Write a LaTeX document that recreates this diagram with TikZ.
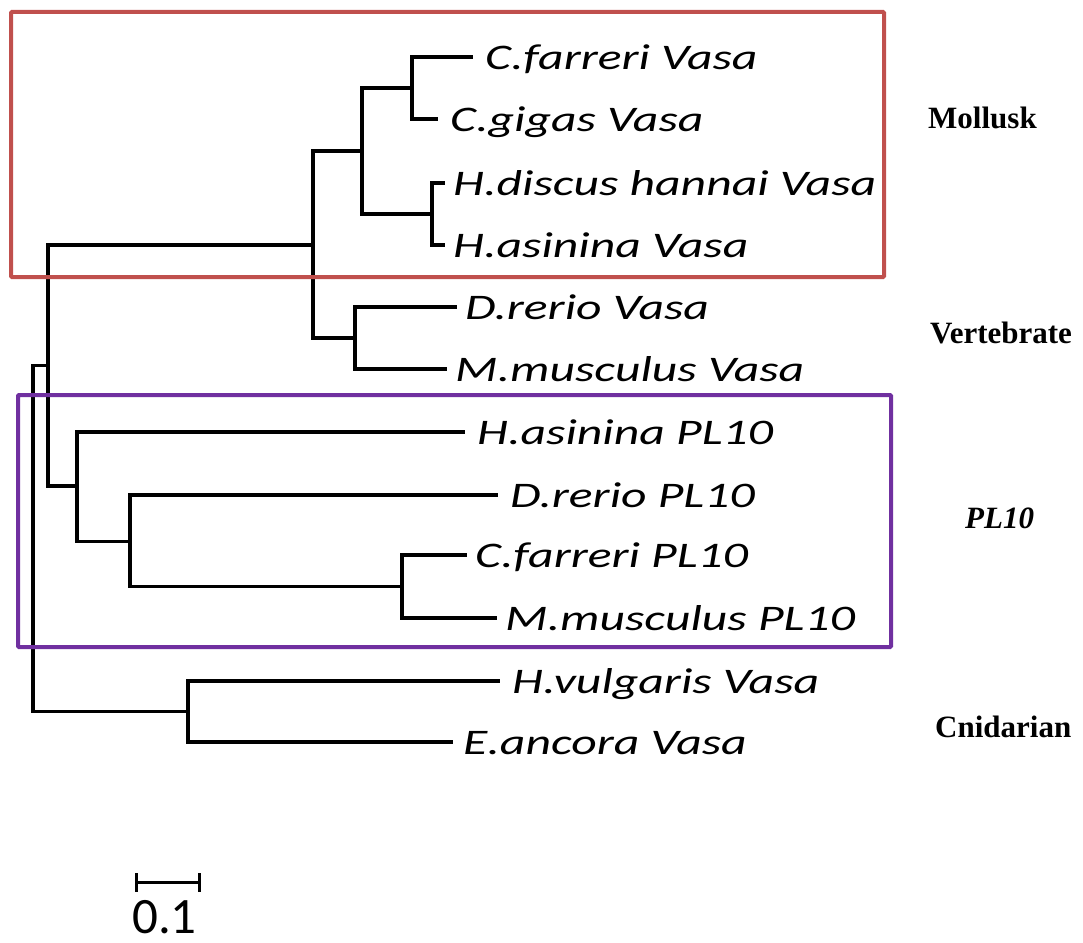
\documentclass[tikz,border=0pt]{standalone}
\usepackage{fontspec}
\usepackage{graphicx}
\newfontfamily\labfont{Carlito}
\newfontfamily\grpfont{Liberation Serif}
\definecolor{boxred}{HTML}{C0504D}
\definecolor{boxpurple}{HTML}{7030A0}
\newcommand{\spname}[1]{\scalebox{1.38}[1]{\labfont\itshape\fontsize{36}{40}\selectfont #1}}
\begin{document}
\begin{tikzpicture}[x=1pt,y=-1pt,
  branch/.style={draw=black,line width=3.2pt},
  leaflab/.style={anchor=base west,inner sep=0pt},
  grplab/.style={anchor=base west,inner sep=0pt,font=\grpfont\bfseries\fontsize{31}{34}\selectfont},
  grpbox/.style={line width=4pt,rounded corners=1pt}]
\useasboundingbox (0,0) rectangle (1083,942);
% leaves
\coordinate (CfV) at (473,57);
\coordinate (CgV) at (438,119);
\coordinate (HdV) at (445,183);
\coordinate (HaV) at (445,245);
\coordinate (DrV) at (457,307);
\coordinate (MmV) at (447,369);
\coordinate (HaP) at (465,432);
\coordinate (DrP) at (498,495);
\coordinate (CfP) at (467,555);
\coordinate (MmP) at (497,618);
\coordinate (Hv) at (500,681);
\coordinate (Ea) at (453,742);
% internal nodes
\coordinate (CC) at (412,88);
\coordinate (HH) at (432,214);
\coordinate (M) at (362,151);
\coordinate (V) at (355,338);
\coordinate (B) at (313,245);
\coordinate (S) at (402,586.5);
\coordinate (Q) at (130,541.5);
\coordinate (P) at (77,486);
\coordinate (A) at (48,365.5);
\coordinate (Cn) at (188,711.5);
\coordinate (R) at (33,539);
% branches
\draw[branch] (CC) |- (CfV); \draw[branch] (CC) |- (CgV);
\draw[branch] (HH) |- (HdV); \draw[branch] (HH) |- (HaV);
\draw[branch] (M) |- (CC); \draw[branch] (M) |- (HH);
\draw[branch] (V) |- (DrV); \draw[branch] (V) |- (MmV);
\draw[branch] (B) |- (M); \draw[branch] (B) |- (V);
\draw[branch] (S) |- (CfP); \draw[branch] (S) |- (MmP);
\draw[branch] (Q) |- (DrP); \draw[branch] (Q) |- (S);
\draw[branch] (P) |- (HaP); \draw[branch] (P) |- (Q);
\draw[branch] (A) |- (B); \draw[branch] (A) |- (P);
\draw[branch] (Cn) |- (Hv); \draw[branch] (Cn) |- (Ea);
\draw[branch] (R) |- (A); \draw[branch] (R) |- (Cn);
% labels
\node[leaflab] (lCfV) at ([xshift=12pt,yshift=-12pt]CfV) {\spname{C.farreri Vasa}};
\node[leaflab] (lCgV) at ([xshift=12pt,yshift=-12pt]CgV) {\spname{C.gigas Vasa}};
\node[leaflab] (lHdV) at ([xshift=8pt,yshift=-12pt]HdV) {\spname{H.discus hannai Vasa}};
\node[leaflab] (lHaV) at ([xshift=8pt,yshift=-12pt]HaV) {\spname{H.asinina Vasa}};
\node[leaflab] (lDrV) at ([xshift=8pt,yshift=-12pt]DrV) {\spname{D.rerio Vasa}};
\node[leaflab] (lMmV) at ([xshift=8pt,yshift=-12pt]MmV) {\spname{M.musculus Vasa}};
\node[leaflab] (lHaP) at ([xshift=12pt,yshift=-12pt]HaP) {\spname{H.asinina PL10}};
\node[leaflab] (lDrP) at ([xshift=12pt,yshift=-12pt]DrP) {\spname{D.rerio PL10}};
\node[leaflab] (lCfP) at ([xshift=8pt,yshift=-12pt]CfP) {\spname{C.farreri PL10}};
\node[leaflab] (lMmP) at ([xshift=8pt,yshift=-12pt]MmP) {\spname{M.musculus PL10}};
\node[leaflab] (lHv) at ([xshift=12pt,yshift=-12pt]Hv) {\spname{H.vulgaris Vasa}};
\node[leaflab] (lEa) at ([xshift=10pt,yshift=-12pt]Ea) {\spname{E.ancora Vasa}};
% group boxes
\draw[grpbox,boxred] (11,12) rectangle (884,277);
\draw[grpbox,boxpurple] (18,395) rectangle (891,647);
% group labels
\node[grplab] (gMol) at (928,128) {Mollusk};
\node[grplab] (gVer) at (930,343) {Vertebrate};
\node[grplab] (gPL) at (965,528) {\itshape PL10};
\node[grplab] (gCni) at (935,737) {Cnidarian};
% scale bar
\coordinate (sb1) at (136,882);
\coordinate (sb2) at (199,882);
\draw[line width=3pt] (sb1) -- (sb2);
\draw[line width=3pt] ([yshift=9pt]sb1) -- ([yshift=-10pt]sb1);
\draw[line width=3pt] ([yshift=9pt]sb2) -- ([yshift=-10pt]sb2);
\node[anchor=base west,inner sep=0pt,text depth=0pt,font=\labfont\fontsize{51}{54}\selectfont] (sbl) at (132,933) {0.1};
\end{tikzpicture}
\end{document}
